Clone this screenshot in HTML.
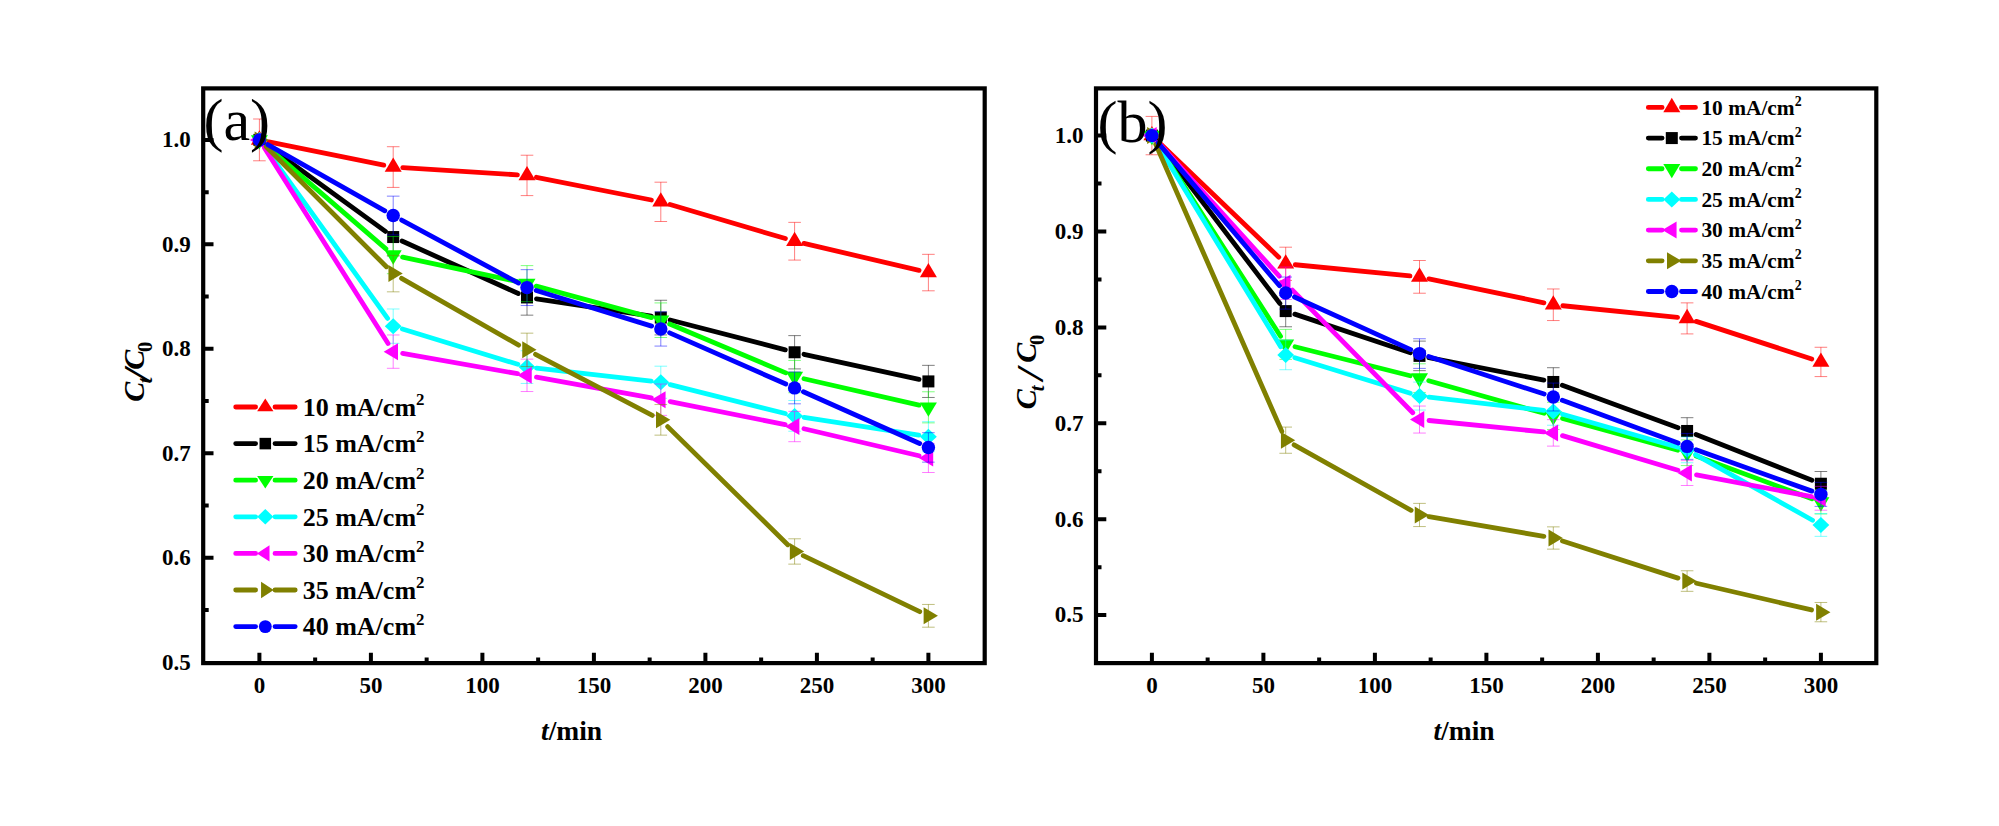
<!DOCTYPE html>
<html><head><meta charset="utf-8"><title>Chart</title><style>html,body{margin:0;padding:0;background:#fff}svg{display:block}</style></head><body>
<svg width="1999" height="826" viewBox="0 0 1999 826">
<rect width="1999" height="826" fill="#fff"/>
<path d="M259.40 119.01V160.79M253.10 119.01h12.6M253.10 160.79h12.6M393.20 146.71V187.41M386.90 146.71h12.6M386.90 187.41h12.6M527.00 155.23V195.60M520.70 155.23h12.6M520.70 195.60h12.6M660.80 182.19V221.50M654.50 182.19h12.6M654.50 221.50h12.6M794.60 222.36V260.09M788.30 222.36h12.6M788.30 260.09h12.6M928.40 254.33V290.80M922.10 254.33h12.6M922.10 290.80h12.6" stroke="#ff0000" stroke-width="1" fill="none" opacity="0.5"/>
<path d="M268.81 141.81L383.79 165.15M402.78 167.66L517.42 174.82M536.42 177.28L651.38 199.98M670.01 204.56L785.39 238.52M803.95 243.42L919.05 270.37" stroke="#ff0000" stroke-width="4.8" fill="none" stroke-linecap="round"/>
<polygon points="250.90,144.67 267.90,144.67 259.40,130.37" fill="#ff0000"/>
<polygon points="384.70,171.83 401.70,171.83 393.20,157.53" fill="#ff0000"/>
<polygon points="518.50,180.18 535.50,180.18 527.00,165.88" fill="#ff0000"/>
<polygon points="652.30,206.61 669.30,206.61 660.80,192.31" fill="#ff0000"/>
<polygon points="786.10,245.99 803.10,245.99 794.60,231.69" fill="#ff0000"/>
<polygon points="919.90,277.33 936.90,277.33 928.40,263.03" fill="#ff0000"/>
<path d="M393.20 218.10V256.00M386.90 218.10h12.6M386.90 256.00h12.6M527.00 279.68V315.17M520.70 279.68h12.6M520.70 315.17h12.6M660.80 300.25V334.92M654.50 300.25h12.6M654.50 334.92h12.6M794.60 335.62V368.91M788.30 335.62h12.6M788.30 368.91h12.6M928.40 365.35V397.47M922.10 365.35h12.6M922.10 397.47h12.6" stroke="#000000" stroke-width="1" fill="none" opacity="0.5"/>
<path d="M267.17 145.54L385.43 231.41M401.95 241.00L518.25 293.48M536.49 298.86L651.31 316.16M670.09 320.00L785.31 349.86M803.98 354.31L919.02 379.37" stroke="#000000" stroke-width="4.8" fill="none" stroke-linecap="round"/>
<rect x="253.40" y="133.90" width="12.00" height="12.00" fill="#000000"/>
<rect x="387.20" y="231.05" width="12.00" height="12.00" fill="#000000"/>
<rect x="521.00" y="291.43" width="12.00" height="12.00" fill="#000000"/>
<rect x="654.80" y="311.59" width="12.00" height="12.00" fill="#000000"/>
<rect x="788.60" y="346.27" width="12.00" height="12.00" fill="#000000"/>
<rect x="922.40" y="375.41" width="12.00" height="12.00" fill="#000000"/>
<path d="M393.20 236.53V273.71M386.90 236.53h12.6M386.90 273.71h12.6M527.00 265.62V301.65M520.70 265.62h12.6M520.70 301.65h12.6M660.80 302.91V337.48M654.50 302.91h12.6M654.50 337.48h12.6M794.60 360.45V392.76M788.30 360.45h12.6M788.30 392.76h12.6M928.40 391.77V422.86M922.10 391.77h12.6M922.10 422.86h12.6" stroke="#00ff00" stroke-width="1" fill="none" opacity="0.5"/>
<path d="M266.67 146.16L385.93 248.86M402.59 257.12L517.61 281.64M536.26 286.17L651.54 317.67M669.65 323.93L785.75 372.88M803.96 378.75L919.04 405.17" stroke="#00ff00" stroke-width="4.8" fill="none" stroke-linecap="round"/>
<polygon points="250.90,135.13 267.90,135.13 259.40,149.43" fill="#00ff00"/>
<polygon points="384.70,250.35 401.70,250.35 393.20,264.65" fill="#00ff00"/>
<polygon points="518.50,278.87 535.50,278.87 527.00,293.17" fill="#00ff00"/>
<polygon points="652.30,315.43 669.30,315.43 660.80,329.73" fill="#00ff00"/>
<polygon points="786.10,371.84 803.10,371.84 794.60,386.14" fill="#00ff00"/>
<polygon points="919.90,402.55 936.90,402.55 928.40,416.85" fill="#00ff00"/>
<path d="M393.20 308.99V343.32M386.90 308.99h12.6M386.90 343.32h12.6M527.00 350.75V383.45M520.70 350.75h12.6M520.70 383.45h12.6M660.80 366.20V398.29M654.50 366.20h12.6M654.50 398.29h12.6M794.60 400.51V431.26M788.30 400.51h12.6M788.30 431.26h12.6M928.40 421.71V451.63M922.10 421.71h12.6M922.10 451.63h12.6" stroke="#00ffff" stroke-width="1" fill="none" opacity="0.5"/>
<path d="M265.00 147.70L387.60 318.36M402.38 328.96L517.82 364.29M536.54 368.18L651.26 381.17M670.11 384.59L785.29 413.54M804.09 417.36L918.91 435.20" stroke="#00ffff" stroke-width="4.8" fill="none" stroke-linecap="round"/>
<polygon points="251.00,139.90 259.40,131.90 267.80,139.90 259.40,147.90" fill="#00ffff"/>
<polygon points="384.80,326.15 393.20,318.15 401.60,326.15 393.20,334.15" fill="#00ffff"/>
<polygon points="518.60,367.10 527.00,359.10 535.40,367.10 527.00,375.10" fill="#00ffff"/>
<polygon points="652.40,382.25 660.80,374.25 669.20,382.25 660.80,390.25" fill="#00ffff"/>
<polygon points="786.20,415.88 794.60,407.88 803.00,415.88 794.60,423.88" fill="#00ffff"/>
<polygon points="920.00,436.67 928.40,428.67 936.80,436.67 928.40,444.67" fill="#00ffff"/>
<path d="M393.20 334.98V368.30M386.90 334.98h12.6M386.90 368.30h12.6M527.00 359.17V391.54M520.70 359.17h12.6M520.70 391.54h12.6M660.80 384.00V415.39M654.50 384.00h12.6M654.50 415.39h12.6M794.60 411.38V441.70M788.30 411.38h12.6M788.30 441.70h12.6M928.40 443.45V472.51M922.10 443.45h12.6M922.10 472.51h12.6" stroke="#ff00ff" stroke-width="1" fill="none" opacity="0.5"/>
<path d="M264.53 148.02L388.07 343.52M402.65 353.32L517.55 373.68M536.45 377.07L651.35 397.97M670.21 401.58L785.19 424.65M803.95 428.73L919.05 455.78" stroke="#ff00ff" stroke-width="4.8" fill="none" stroke-linecap="round"/>
<polygon points="264.17,131.40 264.17,148.40 249.87,139.90" fill="#ff00ff"/>
<polygon points="397.97,343.14 397.97,360.14 383.67,351.64" fill="#ff00ff"/>
<polygon points="531.77,366.85 531.77,383.85 517.47,375.35" fill="#ff00ff"/>
<polygon points="665.57,391.19 665.57,408.19 651.27,399.69" fill="#ff00ff"/>
<polygon points="799.37,418.04 799.37,435.04 785.07,426.54" fill="#ff00ff"/>
<polygon points="933.17,449.48 933.17,466.48 918.87,457.98" fill="#ff00ff"/>
<path d="M393.20 255.39V291.83M386.90 255.39h12.6M386.90 291.83h12.6M527.00 333.17V366.56M520.70 333.17h12.6M520.70 366.56h12.6M660.80 404.56V435.15M654.50 404.56h12.6M654.50 435.15h12.6M794.60 538.81V564.13M788.30 538.81h12.6M788.30 564.13h12.6M928.40 604.45V627.19M922.10 604.45h12.6M922.10 627.19h12.6" stroke="#808000" stroke-width="1" fill="none" opacity="0.5"/>
<path d="M266.19 146.69L386.41 266.82M401.54 278.36L518.66 345.11M535.51 354.31L652.29 415.40M667.64 426.59L787.76 544.74M803.25 555.63L919.75 611.66" stroke="#808000" stroke-width="4.8" fill="none" stroke-linecap="round"/>
<polygon points="254.63,131.40 254.63,148.40 268.93,139.90" fill="#808000"/>
<polygon points="388.43,265.11 388.43,282.11 402.73,273.61" fill="#808000"/>
<polygon points="522.23,341.36 522.23,358.36 536.53,349.86" fill="#808000"/>
<polygon points="656.03,411.35 656.03,428.35 670.33,419.85" fill="#808000"/>
<polygon points="789.83,542.97 789.83,559.97 804.13,551.47" fill="#808000"/>
<polygon points="923.63,607.32 923.63,624.32 937.93,615.82" fill="#808000"/>
<path d="M393.20 196.15V234.91M386.90 196.15h12.6M386.90 234.91h12.6M527.00 269.67V305.54M520.70 269.67h12.6M520.70 305.54h12.6M660.80 311.86V346.08M654.50 311.86h12.6M654.50 346.08h12.6M794.60 371.96V403.82M788.30 371.96h12.6M788.30 403.82h12.6M928.40 432.69V462.17M922.10 432.69h12.6M922.10 462.17h12.6" stroke="#0000ff" stroke-width="1" fill="none" opacity="0.5"/>
<path d="M267.76 144.62L384.84 210.81M401.65 220.08L518.55 283.05M536.17 290.44L651.63 326.14M669.59 332.84L785.81 384.02M803.37 391.79L919.63 443.53" stroke="#0000ff" stroke-width="4.8" fill="none" stroke-linecap="round"/>
<circle cx="259.40" cy="139.90" r="6.70" fill="#0000ff"/>
<circle cx="393.20" cy="215.53" r="6.70" fill="#0000ff"/>
<circle cx="527.00" cy="287.61" r="6.70" fill="#0000ff"/>
<circle cx="660.80" cy="328.97" r="6.70" fill="#0000ff"/>
<circle cx="794.60" cy="387.89" r="6.70" fill="#0000ff"/>
<circle cx="928.40" cy="447.43" r="6.70" fill="#0000ff"/>
<rect x="203.2" y="88.4" width="781.5" height="574.7" fill="none" stroke="#000" stroke-width="4.2"/>
<path d="M259.40 663.1v-10.3M315.15 663.1v-5.5M370.90 663.1v-10.3M426.65 663.1v-5.5M482.40 663.1v-10.3M538.15 663.1v-5.5M593.90 663.1v-10.3M649.65 663.1v-5.5M705.40 663.1v-10.3M761.15 663.1v-5.5M816.90 663.1v-10.3M872.65 663.1v-5.5M928.40 663.1v-10.3M203.2 609.97h5.5M203.2 557.74h10.3M203.2 505.51h5.5M203.2 453.28h10.3M203.2 401.05h5.5M203.2 348.82h10.3M203.2 296.59h5.5M203.2 244.36h10.3M203.2 192.13h5.5M203.2 139.90h10.3" stroke="#000" stroke-width="4" fill="none"/>
<g font-family="'Liberation Serif', serif" font-weight="bold" font-size="23" fill="#000">
<text x="259.40" y="692.9" text-anchor="middle">0</text>
<text x="370.90" y="692.9" text-anchor="middle">50</text>
<text x="482.40" y="692.9" text-anchor="middle">100</text>
<text x="593.90" y="692.9" text-anchor="middle">150</text>
<text x="705.40" y="692.9" text-anchor="middle">200</text>
<text x="816.90" y="692.9" text-anchor="middle">250</text>
<text x="928.40" y="692.9" text-anchor="middle">300</text>
<text x="190.70" y="147.20" text-anchor="end">1.0</text>
<text x="190.70" y="251.66" text-anchor="end">0.9</text>
<text x="190.70" y="356.12" text-anchor="end">0.8</text>
<text x="190.70" y="460.58" text-anchor="end">0.7</text>
<text x="190.70" y="565.04" text-anchor="end">0.6</text>
<text x="190.70" y="669.50" text-anchor="end">0.5</text>
</g>
<text x="571.6" y="740" font-family="'Liberation Serif', serif" font-weight="bold" font-size="27.5" text-anchor="middle"><tspan font-style="italic">t</tspan>/min</text>
<g transform="translate(143.6,400.7) rotate(-90)" font-family="'Liberation Serif', serif" font-weight="bold" font-size="30" font-style="italic"><text x="-1" y="0">C</text><text x="17.5" y="8" font-size="20.5">t</text><text transform="translate(20.2,6.6) scale(1.4,1.23)">/</text><text x="31" y="0">C</text><text x="48.6" y="8" font-size="20.5" font-style="normal">0</text></g>
<path d="M235.7 407.0H255.60000000000002M275.0 407.0H295.2" stroke="#ff0000" stroke-width="4.8" stroke-linecap="round"/>
<polygon points="257.14,411.21 273.46,411.21 265.30,398.58" fill="#ff0000"/>
<text x="302.7" y="415.79" font-family="'Liberation Serif', serif" font-weight="bold" font-size="26">10 mA/cm<tspan font-size="16.9" dy="-10.4">2</tspan></text>
<path d="M235.7 443.6H255.60000000000002M275.0 443.6H295.2" stroke="#000000" stroke-width="4.8" stroke-linecap="round"/>
<rect x="259.54" y="437.84" width="11.52" height="11.52" fill="#000000"/>
<text x="302.7" y="452.39" font-family="'Liberation Serif', serif" font-weight="bold" font-size="26">15 mA/cm<tspan font-size="16.9" dy="-10.4">2</tspan></text>
<path d="M235.7 480.2H255.60000000000002M275.0 480.2H295.2" stroke="#00ff00" stroke-width="4.8" stroke-linecap="round"/>
<polygon points="257.14,475.99 273.46,475.99 265.30,488.62" fill="#00ff00"/>
<text x="302.7" y="488.99" font-family="'Liberation Serif', serif" font-weight="bold" font-size="26">20 mA/cm<tspan font-size="16.9" dy="-10.4">2</tspan></text>
<path d="M235.7 516.8H255.60000000000002M275.0 516.8H295.2" stroke="#00ffff" stroke-width="4.8" stroke-linecap="round"/>
<polygon points="257.24,516.80 265.30,509.12 273.36,516.80 265.30,524.48" fill="#00ffff"/>
<text x="302.7" y="525.59" font-family="'Liberation Serif', serif" font-weight="bold" font-size="26">25 mA/cm<tspan font-size="16.9" dy="-10.4">2</tspan></text>
<path d="M235.7 553.4H255.60000000000002M275.0 553.4H295.2" stroke="#ff00ff" stroke-width="4.8" stroke-linecap="round"/>
<polygon points="269.51,545.24 269.51,561.56 256.88,553.40" fill="#ff00ff"/>
<text x="302.7" y="562.19" font-family="'Liberation Serif', serif" font-weight="bold" font-size="26">30 mA/cm<tspan font-size="16.9" dy="-10.4">2</tspan></text>
<path d="M235.7 590.0H255.60000000000002M275.0 590.0H295.2" stroke="#808000" stroke-width="4.8" stroke-linecap="round"/>
<polygon points="261.09,581.84 261.09,598.16 273.72,590.00" fill="#808000"/>
<text x="302.7" y="598.79" font-family="'Liberation Serif', serif" font-weight="bold" font-size="26">35 mA/cm<tspan font-size="16.9" dy="-10.4">2</tspan></text>
<path d="M235.7 626.6H255.60000000000002M275.0 626.6H295.2" stroke="#0000ff" stroke-width="4.8" stroke-linecap="round"/>
<circle cx="265.30" cy="626.60" r="6.43" fill="#0000ff"/>
<text x="302.7" y="635.39" font-family="'Liberation Serif', serif" font-weight="bold" font-size="26">40 mA/cm<tspan font-size="16.9" dy="-10.4">2</tspan></text>
<text x="203.5" y="140" font-family="'Liberation Serif', serif" font-size="60">(a)</text>
<path d="M1151.90 116.42V154.78M1145.60 116.42h12.6M1145.60 154.78h12.6M1285.70 247.20V280.43M1279.40 247.20h12.6M1279.40 280.43h12.6M1419.50 260.51V293.22M1413.20 260.51h12.6M1413.20 293.22h12.6M1553.30 288.97V320.56M1547.00 288.97h12.6M1547.00 320.56h12.6M1687.10 302.86V333.91M1680.80 302.86h12.6M1680.80 333.91h12.6M1820.90 347.27V376.58M1814.60 347.27h12.6M1814.60 376.58h12.6" stroke="#ff0000" stroke-width="1" fill="none" opacity="0.5"/>
<path d="M1158.83 142.24L1278.77 257.18M1295.25 264.75L1409.95 275.93M1428.90 278.82L1543.90 302.81M1562.85 305.74L1677.55 317.41M1696.23 321.36L1811.77 358.95" stroke="#ff0000" stroke-width="4.8" fill="none" stroke-linecap="round"/>
<polygon points="1143.40,140.37 1160.40,140.37 1151.90,126.07" fill="#ff0000"/>
<polygon points="1277.20,268.58 1294.20,268.58 1285.70,254.28" fill="#ff0000"/>
<polygon points="1411.00,281.63 1428.00,281.63 1419.50,267.33" fill="#ff0000"/>
<polygon points="1544.80,309.53 1561.80,309.53 1553.30,295.23" fill="#ff0000"/>
<polygon points="1678.60,323.15 1695.60,323.15 1687.10,308.85" fill="#ff0000"/>
<polygon points="1812.40,366.69 1829.40,366.69 1820.90,352.39" fill="#ff0000"/>
<path d="M1285.70 295.43V326.77M1279.40 295.43h12.6M1279.40 326.77h12.6M1419.50 341.11V370.66M1413.20 341.11h12.6M1413.20 370.66h12.6M1553.30 367.71V396.22M1547.00 367.71h12.6M1547.00 396.22h12.6M1687.10 417.70V444.24M1680.80 417.70h12.6M1680.80 444.24h12.6M1820.90 471.50V495.93M1814.60 471.50h12.6M1814.60 495.93h12.6" stroke="#000000" stroke-width="1" fill="none" opacity="0.5"/>
<path d="M1157.72 143.23L1279.88 303.46M1294.80 314.14L1410.40 352.84M1428.92 357.72L1543.88 380.13M1562.31 385.27L1678.09 427.67M1696.03 434.49L1811.97 480.20" stroke="#000000" stroke-width="4.8" fill="none" stroke-linecap="round"/>
<rect x="1145.90" y="129.60" width="12.00" height="12.00" fill="#000000"/>
<rect x="1279.70" y="305.10" width="12.00" height="12.00" fill="#000000"/>
<rect x="1413.50" y="349.88" width="12.00" height="12.00" fill="#000000"/>
<rect x="1547.30" y="375.97" width="12.00" height="12.00" fill="#000000"/>
<rect x="1681.10" y="424.97" width="12.00" height="12.00" fill="#000000"/>
<rect x="1814.90" y="477.72" width="12.00" height="12.00" fill="#000000"/>
<path d="M1285.70 329.37V359.38M1279.40 329.37h12.6M1279.40 359.38h12.6M1419.50 363.80V392.46M1413.20 363.80h12.6M1413.20 392.46h12.6M1553.30 402.34V429.49M1547.00 402.34h12.6M1547.00 429.49h12.6M1687.10 439.90V465.58M1680.80 439.90h12.6M1680.80 465.58h12.6M1820.90 490.28V513.98M1814.60 490.28h12.6M1814.60 513.98h12.6" stroke="#00ff00" stroke-width="1" fill="none" opacity="0.5"/>
<path d="M1157.08 143.68L1280.52 336.29M1295.01 346.72L1410.19 375.78M1428.74 380.74L1544.06 413.31M1562.56 418.46L1677.84 450.19M1696.11 456.07L1811.89 498.81" stroke="#00ff00" stroke-width="4.8" fill="none" stroke-linecap="round"/>
<polygon points="1143.40,130.83 1160.40,130.83 1151.90,145.13" fill="#00ff00"/>
<polygon points="1277.20,339.61 1294.20,339.61 1285.70,353.91" fill="#00ff00"/>
<polygon points="1411.00,373.36 1428.00,373.36 1419.50,387.66" fill="#00ff00"/>
<polygon points="1544.80,411.15 1561.80,411.15 1553.30,425.45" fill="#00ff00"/>
<polygon points="1678.60,447.97 1695.60,447.97 1687.10,462.27" fill="#00ff00"/>
<polygon points="1812.40,497.36 1829.40,497.36 1820.90,511.66" fill="#00ff00"/>
<path d="M1285.70 340.13V369.72M1279.40 340.13h12.6M1279.40 369.72h12.6M1419.50 382.09V410.04M1413.20 382.09h12.6M1413.20 410.04h12.6M1553.30 397.94V425.26M1547.00 397.94h12.6M1547.00 425.26h12.6M1687.10 436.97V462.76M1680.80 436.97h12.6M1680.80 462.76h12.6M1820.90 513.56V536.35M1814.60 513.56h12.6M1814.60 536.35h12.6" stroke="#00ffff" stroke-width="1" fill="none" opacity="0.5"/>
<path d="M1156.90 143.80L1280.70 346.73M1294.88 357.74L1410.32 393.24M1429.04 397.17L1543.76 410.49M1562.53 414.24L1677.87 447.22M1695.47 454.56L1812.53 520.26" stroke="#00ffff" stroke-width="4.8" fill="none" stroke-linecap="round"/>
<polygon points="1143.50,135.60 1151.90,127.60 1160.30,135.60 1151.90,143.60" fill="#00ffff"/>
<polygon points="1277.30,354.92 1285.70,346.92 1294.10,354.92 1285.70,362.92" fill="#00ffff"/>
<polygon points="1411.10,396.06 1419.50,388.06 1427.90,396.06 1419.50,404.06" fill="#00ffff"/>
<polygon points="1544.90,411.60 1553.30,403.60 1561.70,411.60 1553.30,419.60" fill="#00ffff"/>
<polygon points="1678.70,449.86 1687.10,441.86 1695.50,449.86 1687.10,457.86" fill="#00ffff"/>
<polygon points="1812.50,524.95 1820.90,516.95 1829.30,524.95 1820.90,532.95" fill="#00ffff"/>
<path d="M1285.70 267.06V299.51M1279.40 267.06h12.6M1279.40 299.51h12.6M1419.50 406.06V433.06M1413.20 406.06h12.6M1413.20 433.06h12.6M1553.30 419.66V446.12M1547.00 419.66h12.6M1547.00 446.12h12.6M1687.10 460.64V485.50M1680.80 460.64h12.6M1680.80 485.50h12.6M1820.90 486.37V510.22M1814.60 486.37h12.6M1814.60 510.22h12.6" stroke="#ff00ff" stroke-width="1" fill="none" opacity="0.5"/>
<path d="M1158.35 142.71L1279.25 276.17M1292.43 290.14L1412.77 412.71M1429.05 420.51L1543.75 431.94M1562.49 435.65L1677.91 470.31M1696.53 474.85L1811.47 496.52" stroke="#ff00ff" stroke-width="4.8" fill="none" stroke-linecap="round"/>
<polygon points="1156.67,127.10 1156.67,144.10 1142.37,135.60" fill="#ff00ff"/>
<polygon points="1290.47,274.79 1290.47,291.79 1276.17,283.29" fill="#ff00ff"/>
<polygon points="1424.27,411.06 1424.27,428.06 1409.97,419.56" fill="#ff00ff"/>
<polygon points="1558.07,424.39 1558.07,441.39 1543.77,432.89" fill="#ff00ff"/>
<polygon points="1691.87,464.57 1691.87,481.57 1677.57,473.07" fill="#ff00ff"/>
<polygon points="1825.67,489.79 1825.67,506.79 1811.37,498.29" fill="#ff00ff"/>
<path d="M1285.70 427.09V453.27M1279.40 427.09h12.6M1279.40 453.27h12.6M1419.50 503.39V526.57M1413.20 503.39h12.6M1413.20 526.57h12.6M1553.30 526.86V549.13M1547.00 526.86h12.6M1547.00 549.13h12.6M1687.10 570.78V591.33M1680.80 570.78h12.6M1680.80 591.33h12.6M1820.90 602.48V621.78M1814.60 602.48h12.6M1814.60 621.78h12.6" stroke="#808000" stroke-width="1" fill="none" opacity="0.5"/>
<path d="M1155.76 144.39L1281.84 431.39M1294.08 444.86L1411.12 510.30M1428.96 516.61L1543.84 536.37M1562.44 540.94L1677.96 578.11M1696.45 583.23L1811.55 609.96" stroke="#808000" stroke-width="4.8" fill="none" stroke-linecap="round"/>
<polygon points="1147.13,127.10 1147.13,144.10 1161.43,135.60" fill="#808000"/>
<polygon points="1280.93,431.68 1280.93,448.68 1295.23,440.18" fill="#808000"/>
<polygon points="1414.73,506.48 1414.73,523.48 1429.03,514.98" fill="#808000"/>
<polygon points="1548.53,529.50 1548.53,546.50 1562.83,538.00" fill="#808000"/>
<polygon points="1682.33,572.56 1682.33,589.56 1696.63,581.06" fill="#808000"/>
<polygon points="1816.13,603.63 1816.13,620.63 1830.43,612.13" fill="#808000"/>
<path d="M1285.70 277.04V309.10M1279.40 277.04h12.6M1279.40 309.10h12.6M1419.50 338.76V368.40M1413.20 338.76h12.6M1413.20 368.40h12.6M1553.30 383.07V410.97M1547.00 383.07h12.6M1547.00 410.97h12.6M1687.10 433.45V459.38M1680.80 433.45h12.6M1680.80 459.38h12.6M1820.90 482.36V506.37M1814.60 482.36h12.6M1814.60 506.37h12.6" stroke="#0000ff" stroke-width="1" fill="none" opacity="0.5"/>
<path d="M1158.12 142.92L1279.48 285.75M1294.45 297.02L1410.75 349.62M1428.63 356.55L1544.17 394.06M1562.31 400.35L1678.09 443.09M1696.14 449.65L1811.86 491.12" stroke="#0000ff" stroke-width="4.8" fill="none" stroke-linecap="round"/>
<circle cx="1151.90" cy="135.60" r="6.70" fill="#0000ff"/>
<circle cx="1285.70" cy="293.07" r="6.70" fill="#0000ff"/>
<circle cx="1419.50" cy="353.58" r="6.70" fill="#0000ff"/>
<circle cx="1553.30" cy="397.02" r="6.70" fill="#0000ff"/>
<circle cx="1687.10" cy="446.41" r="6.70" fill="#0000ff"/>
<circle cx="1820.90" cy="494.36" r="6.70" fill="#0000ff"/>
<rect x="1096" y="88.4" width="780.3" height="574.7" fill="none" stroke="#000" stroke-width="4.2"/>
<path d="M1151.90 663.1v-10.3M1207.65 663.1v-5.5M1263.40 663.1v-10.3M1319.15 663.1v-5.5M1374.90 663.1v-10.3M1430.65 663.1v-5.5M1486.40 663.1v-10.3M1542.15 663.1v-5.5M1597.90 663.1v-10.3M1653.65 663.1v-5.5M1709.40 663.1v-10.3M1765.15 663.1v-5.5M1820.90 663.1v-10.3M1096 615.10h10.3M1096 567.15h5.5M1096 519.20h10.3M1096 471.25h5.5M1096 423.30h10.3M1096 375.35h5.5M1096 327.40h10.3M1096 279.45h5.5M1096 231.50h10.3M1096 183.55h5.5M1096 135.60h10.3" stroke="#000" stroke-width="4" fill="none"/>
<g font-family="'Liberation Serif', serif" font-weight="bold" font-size="23" fill="#000">
<text x="1151.90" y="692.9" text-anchor="middle">0</text>
<text x="1263.40" y="692.9" text-anchor="middle">50</text>
<text x="1374.90" y="692.9" text-anchor="middle">100</text>
<text x="1486.40" y="692.9" text-anchor="middle">150</text>
<text x="1597.90" y="692.9" text-anchor="middle">200</text>
<text x="1709.40" y="692.9" text-anchor="middle">250</text>
<text x="1820.90" y="692.9" text-anchor="middle">300</text>
<text x="1083.50" y="142.90" text-anchor="end">1.0</text>
<text x="1083.50" y="238.80" text-anchor="end">0.9</text>
<text x="1083.50" y="334.70" text-anchor="end">0.8</text>
<text x="1083.50" y="430.60" text-anchor="end">0.7</text>
<text x="1083.50" y="526.50" text-anchor="end">0.6</text>
<text x="1083.50" y="622.40" text-anchor="end">0.5</text>
</g>
<text x="1464" y="740" font-family="'Liberation Serif', serif" font-weight="bold" font-size="27.5" text-anchor="middle"><tspan font-style="italic">t</tspan>/min</text>
<g transform="translate(1036,408.3) rotate(-90)" font-family="'Liberation Serif', serif" font-weight="bold" font-size="30" font-style="italic"><text x="-1" y="0">C</text><text x="17" y="8" font-size="20.5">t</text><text transform="translate(28.3,6.6) scale(1.4,1.23)">/</text><text x="45.5" y="0">C</text><text x="63.4" y="8" font-size="20.5" font-style="normal">0</text></g>
<path d="M1648.3 107.4H1662.1M1681.5 107.4H1695.5" stroke="#ff0000" stroke-width="4.8" stroke-linecap="round"/>
<polygon points="1663.30,112.17 1680.30,112.17 1671.80,97.87" fill="#ff0000"/>
<text x="1701.4" y="114.63" font-family="'Liberation Serif', serif" font-weight="bold" font-size="21.4">10 mA/cm<tspan font-size="13.9" dy="-8.6">2</tspan></text>
<path d="M1648.3 138.08H1662.1M1681.5 138.08H1695.5" stroke="#000000" stroke-width="4.8" stroke-linecap="round"/>
<rect x="1665.80" y="132.08" width="12.00" height="12.00" fill="#000000"/>
<text x="1701.4" y="145.31" font-family="'Liberation Serif', serif" font-weight="bold" font-size="21.4">15 mA/cm<tspan font-size="13.9" dy="-8.6">2</tspan></text>
<path d="M1648.3 168.76H1662.1M1681.5 168.76H1695.5" stroke="#00ff00" stroke-width="4.8" stroke-linecap="round"/>
<polygon points="1663.30,163.99 1680.30,163.99 1671.80,178.29" fill="#00ff00"/>
<text x="1701.4" y="175.99" font-family="'Liberation Serif', serif" font-weight="bold" font-size="21.4">20 mA/cm<tspan font-size="13.9" dy="-8.6">2</tspan></text>
<path d="M1648.3 199.44H1662.1M1681.5 199.44H1695.5" stroke="#00ffff" stroke-width="4.8" stroke-linecap="round"/>
<polygon points="1663.40,199.44 1671.80,191.44 1680.20,199.44 1671.80,207.44" fill="#00ffff"/>
<text x="1701.4" y="206.67" font-family="'Liberation Serif', serif" font-weight="bold" font-size="21.4">25 mA/cm<tspan font-size="13.9" dy="-8.6">2</tspan></text>
<path d="M1648.3 230.12H1662.1M1681.5 230.12H1695.5" stroke="#ff00ff" stroke-width="4.8" stroke-linecap="round"/>
<polygon points="1676.57,221.62 1676.57,238.62 1662.27,230.12" fill="#ff00ff"/>
<text x="1701.4" y="237.35" font-family="'Liberation Serif', serif" font-weight="bold" font-size="21.4">30 mA/cm<tspan font-size="13.9" dy="-8.6">2</tspan></text>
<path d="M1648.3 260.8H1662.1M1681.5 260.8H1695.5" stroke="#808000" stroke-width="4.8" stroke-linecap="round"/>
<polygon points="1667.03,252.30 1667.03,269.30 1681.33,260.80" fill="#808000"/>
<text x="1701.4" y="268.03" font-family="'Liberation Serif', serif" font-weight="bold" font-size="21.4">35 mA/cm<tspan font-size="13.9" dy="-8.6">2</tspan></text>
<path d="M1648.3 291.48H1662.1M1681.5 291.48H1695.5" stroke="#0000ff" stroke-width="4.8" stroke-linecap="round"/>
<circle cx="1671.80" cy="291.48" r="6.70" fill="#0000ff"/>
<text x="1701.4" y="298.71" font-family="'Liberation Serif', serif" font-weight="bold" font-size="21.4">40 mA/cm<tspan font-size="13.9" dy="-8.6">2</tspan></text>
<text x="1097.5" y="142.1" font-family="'Liberation Serif', serif" font-size="60">(b)</text>
</svg>
</body></html>
